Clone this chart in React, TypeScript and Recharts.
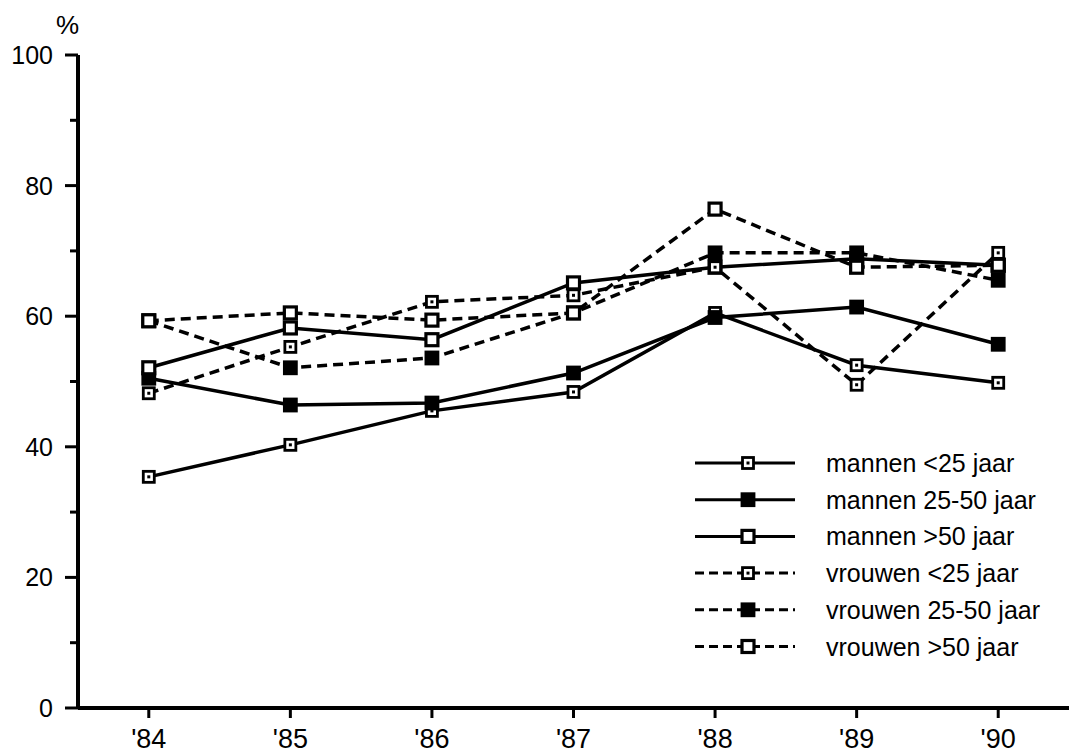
import { LineChart, Line, XAxis, YAxis, Legend } from 'recharts';

const YEARS = [84, 85, 86, 87, 88, 89, 90];
const YEAR_LABELS = ["'84", "'85", "'86", "'87", "'88", "'89", "'90"];
const Y_TICKS = [0, 10, 20, 30, 40, 50, 60, 70, 80, 90, 100];

const MANNEN_U25 = [35.4, 40.3, 45.5, 48.4, 60.5, 52.5, 49.8];
const MANNEN_25_50 = [50.5, 46.4, 46.7, 51.3, 59.8, 61.4, 55.7];
const MANNEN_O50 = [52.1, 58.2, 56.4, 65.1, 67.5, 68.8, 67.8];
const VROUWEN_U25 = [48.2, 55.3, 62.2, 63.2, 67.5, 49.5, 69.7];
const VROUWEN_25_50 = [59.3, 52.1, 53.6, 60.5, 69.7, 69.7, 65.5];
const VROUWEN_O50 = [59.3, 60.5, 59.4, 60.5, 76.4, 67.5, 67.8];

const FONT = '"Liberation Sans", Arial, sans-serif';

type Kind = 'dot' | 'filled' | 'hollow';

const SERIES: { key: string; name: string; kind: Kind; dashed: boolean; values: number[] }[] = [
  { key: 'm1', name: 'mannen <25 jaar', kind: 'dot', dashed: false, values: MANNEN_U25 },
  { key: 'm2', name: 'mannen 25-50 jaar', kind: 'filled', dashed: false, values: MANNEN_25_50 },
  { key: 'm3', name: 'mannen >50 jaar', kind: 'hollow', dashed: false, values: MANNEN_O50 },
  { key: 'v1', name: 'vrouwen <25 jaar', kind: 'dot', dashed: true, values: VROUWEN_U25 },
  { key: 'v2', name: 'vrouwen 25-50 jaar', kind: 'filled', dashed: true, values: VROUWEN_25_50 },
  { key: 'v3', name: 'vrouwen >50 jaar', kind: 'hollow', dashed: true, values: VROUWEN_O50 },
];

// draw order: which marker ends up on top
const DRAW_ORDER = ['m1', 'm2', 'm3', 'v2', 'v1', 'v3'];

const data = YEARS.map((year, i) => {
  const row: any = { year };
  SERIES.forEach((s) => { row[s.key] = s.values[i]; });
  return row;
});

const Marker = ({ cx, cy, kind }: { cx: number; cy: number; kind: Kind }) => {
  const size = kind === 'dot' ? 11 : 12;
  return (
    <g>
      <rect
        x={cx - size / 2}
        y={cy - size / 2}
        width={size}
        height={size}
        fill={kind === 'filled' ? '#000' : '#fff'}
        stroke="#000"
        strokeWidth={kind === 'hollow' ? 3.2 : 2.8}
      />
      {kind === 'dot' && <rect x={cx - 1.5} y={cy - 1.5} width={3} height={3} fill="#000" />}
    </g>
  );
};

const YTick = ({ x, y, payload }: any) => {
  const major = payload.value % 20 === 0;
  return (
    <g>
      <line x1={x - (major ? 13 : 8)} x2={x} y1={y} y2={y} stroke="#000" strokeWidth={3} />
      {major && (
        <text x={x - 25} y={y} dy="0.36em" textAnchor="end" fontSize={25} fontFamily={FONT} fill="#000">
          {payload.value}
        </text>
      )}
    </g>
  );
};

const LegendBox = () => (
  <svg width={370} height={220}>
    {SERIES.map((s, i) => {
      const y = 18 + i * 36.7;
      return (
        <g key={s.key}>
          <line
            x1={0}
            x2={100}
            y1={y}
            y2={y}
            stroke="#000"
            strokeWidth={3}
            strokeDasharray={s.dashed ? '9 5' : undefined}
          />
          <Marker cx={53} cy={y} kind={s.kind} />
          <text x={131} y={y} dy="0.36em" fontSize={25} fontFamily={FONT} fill="#000">
            {s.name}
          </text>
        </g>
      );
    })}
  </svg>
);

export default function App() {
  const ordered = DRAW_ORDER.map((k) => SERIES.find((s) => s.key === k)!);
  return (
    <div style={{ position: 'absolute', left: 0, top: 0, width: 1069, height: 756, background: '#fff' }}>
      <svg width={1069} height={756} style={{ position: 'absolute', left: 0, top: 0 }}>
        <text x={56} y={34} fontSize={26} fontFamily={FONT} fill="#000">%</text>
      </svg>
      <LineChart width={1069} height={756} data={data} margin={{ top: 55, right: 0, bottom: 0, left: 0 }}>
        <XAxis
          type="number"
          dataKey="year"
          domain={[83.5, 90.5]}
          ticks={YEARS}
          tickFormatter={(v) => YEAR_LABELS[YEARS.indexOf(v)]}
          height={48}
          axisLine={{ stroke: '#000', strokeWidth: 4 }}
          tickLine={{ stroke: '#000', strokeWidth: 3 }}
          tickSize={10}
          tickMargin={11}
          tick={{ fill: '#000', fontSize: 27, fontFamily: FONT }}
        />
        <YAxis
          domain={[0, 100]}
          ticks={Y_TICKS}
          width={78}
          axisLine={{ stroke: '#000', strokeWidth: 4 }}
          tickLine={false}
          tickSize={0}
          tickMargin={0}
          tick={<YTick />}
          interval={0}
        />
        <Legend
          layout="horizontal"
          verticalAlign="middle"
          content={() => <LegendBox />}
          wrapperStyle={{ left: 695, top: 445, width: 370, height: 220 }}
        />
        {ordered.map((s) => (
          <Line
            key={s.key}
            type="linear"
            dataKey={s.key}
            name={s.name}
            stroke="#000"
            strokeWidth={3.5}
            strokeDasharray={s.dashed ? '10 6' : undefined}
            isAnimationActive={false}
            dot={(p: any) => <Marker key={`${s.key}-${p.index}`} cx={p.cx} cy={p.cy} kind={s.kind} />}
            activeDot={false}
            legendType="none"
          />
        ))}
      </LineChart>
    </div>
  );
}
